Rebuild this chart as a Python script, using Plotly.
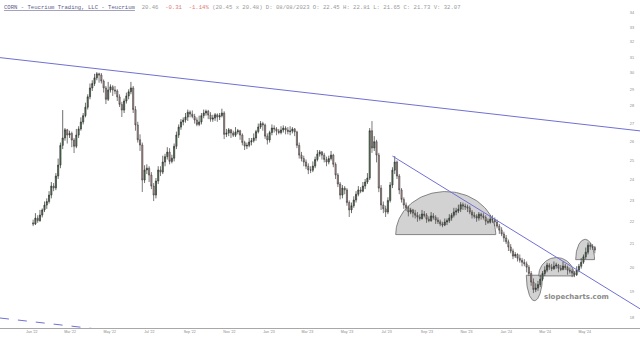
import numpy as np
import pandas as pd
import plotly.graph_objects as go

# ---------------- data: half-week bars (two per week) ----------------
first_week = "2022-01-03"
n_weeks = 124
opens = [21.95, 21.90, 22.17, 22.05, 22.31, 22.55, 22.78, 22.95, 23.26, 23.70, 23.61, 24.20, 24.76, 25.80, 26.20, 26.65,
         26.36, 26.45, 26.09, 25.75, 26.36, 26.70, 27.09, 27.45, 27.94, 28.55, 29.08, 29.35, 29.70, 29.95, 29.88, 29.50,
         29.08, 28.40, 28.96, 29.15, 28.96, 28.90, 28.54, 28.10, 27.77, 28.30, 28.60, 28.85, 29.08, 27.80, 26.92, 26.10,
         25.82, 24.00, 24.51, 24.60, 24.25, 23.70, 23.26, 23.95, 24.51, 24.40, 24.92, 25.20, 25.44, 24.95, 25.12, 25.75,
         26.36, 26.80, 27.09, 27.20, 27.37, 27.65, 27.54, 27.40, 27.20, 26.95, 27.09, 27.45, 27.60, 27.70, 27.48, 27.25,
         27.31, 27.50, 27.37, 27.45, 27.60, 26.40, 26.47, 26.65, 26.47, 26.35, 26.53, 26.60, 26.36, 25.95, 25.76, 25.80,
         25.98, 26.05, 26.20, 26.55, 26.81, 27.00, 26.92, 26.30, 26.09, 26.50, 26.75, 26.70, 26.58, 26.50, 26.64, 26.75,
         26.64, 26.55, 26.58, 26.70, 26.53, 25.80, 25.28, 25.10, 24.92, 24.70, 24.51, 24.50, 24.71, 25.05, 25.34, 25.45,
         25.28, 25.05, 24.92, 25.10, 25.28, 24.80, 24.25, 23.80, 23.26, 23.60, 23.51, 22.90, 22.55, 22.75, 23.02, 23.30,
         23.51, 23.45, 23.70, 23.90, 24.10, 26.60, 25.66, 26.00, 25.28, 23.60, 22.78, 22.60, 22.45, 23.00, 23.75, 24.50,
         24.92, 24.20, 23.51, 23.05, 22.78, 22.65, 22.45, 22.55, 22.40, 22.30, 22.22, 22.15, 22.36, 22.30, 22.12, 22.05,
         22.27, 22.20, 22.08, 22.00, 21.90, 21.85, 21.99, 22.05, 22.17, 22.30, 22.45, 22.50, 22.59, 22.80, 22.73, 22.70,
         22.64, 22.45, 22.31, 22.25, 22.17, 22.35, 22.27, 22.20, 22.03, 21.98, 22.12, 22.10, 21.99, 21.80, 21.62, 21.45,
         21.27, 21.10, 20.87, 20.70, 20.48, 20.55, 20.39, 20.30, 20.22, 20.15, 20.01, 19.75, 19.40, 19.10, 19.16, 19.30,
         19.52, 19.75, 19.89, 20.10, 20.01, 19.95, 20.06, 20.10, 19.97, 19.92, 20.06, 20.00, 19.89, 19.85, 19.77, 19.70,
         19.89, 20.05, 20.22, 20.45, 20.65, 20.95, 20.91, 20.85]
highs = [22.10, 22.40, 22.30, 22.55, 22.62, 22.95, 23.10, 23.45, 23.90, 23.85, 24.35, 25.10, 25.95, 27.77, 26.75, 26.70,
         26.60, 26.55, 26.20, 26.70, 26.85, 27.35, 27.60, 28.20, 28.70, 29.35, 29.55, 29.95, 30.06, 30.02, 30.00, 29.60,
         29.20, 29.45, 29.30, 29.25, 29.20, 29.00, 28.70, 28.25, 28.45, 28.80, 29.00, 29.45, 29.20, 28.00, 27.10, 26.40,
         25.95, 24.75, 24.80, 24.70, 24.40, 23.85, 24.10, 24.70, 24.70, 25.25, 25.35, 25.70, 25.65, 25.30, 25.90, 26.55,
         26.95, 27.25, 27.35, 27.60, 27.80, 27.75, 27.75, 27.55, 27.35, 27.45, 27.60, 27.80, 27.80, 27.78, 27.65, 27.50,
         27.60, 27.58, 27.60, 27.85, 27.70, 26.70, 26.75, 26.70, 26.60, 26.80, 26.70, 26.65, 26.45, 26.05, 25.95, 26.20,
         26.20, 26.45, 26.65, 27.00, 27.14, 27.10, 27.00, 26.45, 26.60, 26.95, 26.90, 26.80, 26.70, 26.85, 26.90, 26.85,
         26.80, 26.85, 26.80, 26.75, 26.60, 25.95, 25.45, 25.25, 25.05, 24.85, 24.70, 24.95, 25.20, 25.55, 25.55, 25.50,
         25.40, 25.20, 25.25, 25.50, 25.35, 24.90, 24.35, 23.90, 23.75, 23.70, 23.60, 23.00, 22.90, 23.20, 23.45, 23.70,
         23.65, 23.90, 24.05, 24.35, 26.75, 27.14, 26.30, 26.10, 25.40, 23.75, 22.95, 22.75, 23.15, 23.90, 24.65, 25.23,
         25.00, 24.30, 23.60, 23.15, 22.90, 22.75, 22.65, 22.60, 22.55, 22.45, 22.35, 22.55, 22.50, 22.40, 22.25, 22.45,
         22.40, 22.30, 22.20, 22.10, 22.00, 22.15, 22.15, 22.35, 22.40, 22.65, 22.65, 22.80, 22.92, 22.90, 22.85, 22.80,
         22.75, 22.55, 22.45, 22.35, 22.45, 22.42, 22.40, 22.30, 22.15, 22.30, 22.30, 22.20, 22.10, 21.90, 21.75, 21.55,
         21.40, 21.20, 21.00, 20.80, 20.65, 20.60, 20.55, 20.40, 20.35, 20.25, 20.10, 19.85, 19.55, 19.35, 19.45, 19.70,
         19.85, 20.05, 20.20, 20.18, 20.15, 20.25, 20.20, 20.15, 20.10, 20.25, 20.15, 20.08, 20.00, 19.95, 19.85, 20.05,
         20.15, 20.40, 20.55, 20.85, 21.07, 21.05, 21.00, 20.92]
lows = [21.80, 21.85, 21.95, 22.00, 22.20, 22.45, 22.60, 22.85, 23.10, 23.45, 23.50, 24.05, 24.60, 25.60, 26.05, 25.90,
        26.20, 25.70, 25.39, 25.65, 26.20, 26.60, 26.95, 27.35, 27.80, 28.40, 28.90, 29.20, 29.55, 29.40, 29.35, 28.80,
        28.12, 28.30, 28.80, 28.60, 28.70, 28.30, 27.95, 27.37, 27.60, 28.15, 28.40, 28.70, 27.60, 26.60, 25.95, 25.50,
        23.41, 23.85, 24.30, 23.90, 23.55, 22.97, 23.10, 23.80, 24.20, 24.30, 24.70, 25.05, 24.80, 24.85, 24.95, 25.60,
        26.20, 26.65, 26.90, 27.05, 27.15, 27.35, 27.30, 27.00, 26.85, 26.85, 26.95, 27.30, 27.45, 27.25, 27.10, 27.10,
        27.15, 27.10, 27.20, 27.35, 26.14, 26.25, 26.30, 26.20, 26.25, 26.25, 26.40, 26.10, 25.80, 25.55, 25.60, 25.70,
        25.80, 25.95, 26.05, 26.45, 26.70, 26.60, 26.15, 25.85, 25.95, 26.35, 26.50, 26.35, 26.40, 26.40, 26.50, 26.40,
        26.40, 26.35, 26.45, 26.30, 25.65, 25.10, 24.95, 24.70, 24.55, 24.30, 24.35, 24.40, 24.60, 24.95, 25.20, 25.05,
        24.90, 24.70, 24.80, 25.00, 24.65, 24.05, 23.65, 23.05, 23.10, 23.30, 22.75, 22.22, 22.40, 22.65, 22.90, 23.20,
        23.35, 23.40, 23.55, 23.80, 24.00, 25.40, 25.50, 24.90, 23.40, 22.55, 22.40, 22.22, 22.35, 22.90, 23.60, 24.30,
        24.05, 23.30, 22.90, 22.60, 22.50, 22.25, 22.35, 22.20, 22.15, 22.00, 22.05, 22.10, 22.20, 21.95, 21.98, 22.00,
        22.10, 21.90, 21.90, 21.80, 21.75, 21.80, 21.85, 21.95, 22.05, 22.20, 22.30, 22.40, 22.45, 22.55, 22.55, 22.45,
        22.35, 22.15, 22.15, 22.00, 22.05, 22.10, 22.10, 21.85, 21.90, 21.92, 21.95, 21.80, 21.70, 21.45, 21.35, 21.10,
        21.00, 20.70, 20.60, 20.35, 20.40, 20.25, 20.20, 20.05, 20.05, 19.80, 19.65, 19.25, 18.96, 19.00, 19.05, 19.20,
        19.45, 19.65, 19.80, 19.90, 19.85, 19.90, 19.95, 19.80, 19.85, 19.88, 19.90, 19.70, 19.75, 19.60, 19.60, 19.65,
        19.80, 19.95, 20.15, 20.35, 20.55, 20.75, 20.75, 20.60]
closes = [21.90, 22.17, 22.05, 22.31, 22.55, 22.78, 22.95, 23.26, 23.70, 23.61, 24.20, 24.76, 25.80, 26.20, 26.65, 26.36,
          26.45, 26.09, 25.75, 26.36, 26.70, 27.09, 27.45, 27.94, 28.55, 29.08, 29.35, 29.70, 29.95, 29.88, 29.50, 29.08,
          28.40, 28.96, 29.15, 28.96, 28.90, 28.54, 28.10, 27.77, 28.30, 28.60, 28.85, 29.08, 27.80, 26.92, 26.10, 25.82,
          24.00, 24.51, 24.60, 24.25, 23.70, 23.26, 23.95, 24.51, 24.40, 24.92, 25.20, 25.44, 24.95, 25.12, 25.75, 26.36,
          26.80, 27.09, 27.20, 27.37, 27.65, 27.54, 27.40, 27.20, 26.95, 27.09, 27.45, 27.60, 27.70, 27.48, 27.25, 27.31,
          27.50, 27.37, 27.45, 27.60, 26.40, 26.47, 26.65, 26.47, 26.35, 26.53, 26.60, 26.36, 25.95, 25.76, 25.80, 25.98,
          26.05, 26.20, 26.55, 26.81, 27.00, 26.92, 26.30, 26.09, 26.50, 26.75, 26.70, 26.58, 26.50, 26.64, 26.75, 26.64,
          26.55, 26.58, 26.70, 26.53, 25.80, 25.28, 25.10, 24.92, 24.70, 24.51, 24.50, 24.71, 25.05, 25.34, 25.45, 25.28,
          25.05, 24.92, 25.10, 25.28, 24.80, 24.25, 23.80, 23.26, 23.60, 23.51, 22.90, 22.55, 22.75, 23.02, 23.30, 23.51,
          23.45, 23.70, 23.90, 24.10, 26.60, 25.66, 26.00, 25.28, 23.60, 22.78, 22.60, 22.45, 23.00, 23.75, 24.50, 24.92,
          24.20, 23.51, 23.05, 22.78, 22.65, 22.45, 22.55, 22.40, 22.30, 22.22, 22.15, 22.36, 22.30, 22.12, 22.05, 22.27,
          22.20, 22.08, 22.00, 21.90, 21.85, 21.99, 22.05, 22.17, 22.30, 22.45, 22.50, 22.59, 22.80, 22.73, 22.70, 22.64,
          22.45, 22.31, 22.25, 22.17, 22.35, 22.27, 22.20, 22.03, 21.98, 22.12, 22.10, 21.99, 21.80, 21.62, 21.45, 21.27,
          21.10, 20.87, 20.70, 20.48, 20.55, 20.39, 20.30, 20.22, 20.15, 20.01, 19.75, 19.40, 19.10, 19.16, 19.30, 19.52,
          19.75, 19.89, 20.10, 20.01, 19.95, 20.06, 20.10, 19.97, 19.92, 20.06, 20.00, 19.89, 19.85, 19.77, 19.70, 19.89,
          20.05, 20.22, 20.45, 20.65, 20.95, 20.91, 20.85, 20.74]
week_starts = pd.date_range(first_week, periods=n_weeks, freq="7D")
dates = pd.DatetimeIndex(np.ravel(np.column_stack([week_starts.values,
                                                   (week_starts + pd.Timedelta(hours=84)).values])))

ytick_vals = list(range(18, 35))
xtick_dates = ["2022-01-01", "2022-03-01", "2022-05-01", "2022-07-01", "2022-09-01", "2022-11-01",
               "2023-01-01", "2023-03-01", "2023-05-01", "2023-07-01", "2023-09-01", "2023-11-01",
               "2024-01-01", "2024-03-01", "2024-05-01"]
xtick_text = ["Jan '22", "Mar '22", "May '22", "Jul '22", "Sep '22", "Nov '22",
              "Jan '23", "Mar '23", "May '23", "Jul '23", "Sep '23", "Nov '23",
              "Jan '24", "Mar '24", "May '24"]

# drawn trend lines: anchor (date, price)
trend_main_dates = ["2021-11-13", "2024-07-25"]
trend_main_prices = [30.98, 26.59]
trend_down_dates = ["2023-07-10", "2024-07-25"]
trend_down_prices = [25.23, 18.35]
trend_dash_dates = ["2021-11-13", "2022-04-30"]
trend_dash_prices = [18.00, 17.54]

# drawn domes / bowls: left date, right date, base price, apex price
dome_left = ["2023-07-15", "2024-02-01", "2024-02-20", "2024-04-17"]
dome_right = ["2023-12-16", "2024-02-26", "2024-04-15", "2024-05-16"]
dome_base = [21.42, 19.68, 19.65, 20.33]
dome_apex = [23.43, 18.66, 20.42, 21.21]

x_range = ["2021-11-13", "2024-07-25"]
y_range_prices = [17.629, 34.934]
y_range_log = [float(np.log10(y_range_prices[0])), float(np.log10(y_range_prices[1]))]

# ---------------- figure ----------------
fig = go.Figure()

theta = np.linspace(0, np.pi, 80)
for l, r, b, a in zip(dome_left, dome_right, dome_base, dome_apex):
    lt = pd.Timestamp(l).value
    rt = pd.Timestamp(r).value
    tt = lt + (rt - lt) * (1 - np.cos(theta)) / 2
    lp = np.log10(b) + (np.log10(a) - np.log10(b)) * np.sin(theta)
    xs = list(pd.to_datetime(tt)) + [pd.Timestamp(l)]
    ys = list(10 ** lp) + [b]
    fig.add_trace(go.Scatter(x=xs, y=ys, mode="lines", fill="toself",
                             fillcolor="#d2d2d2",
                             line=dict(color="#6a6a6a", width=0.8),
                             hoverinfo="skip", showlegend=False, yaxis="y"))

fig.add_trace(go.Candlestick(
    x=dates, open=opens, high=highs, low=lows, close=closes, yaxis="y2",
    increasing=dict(line=dict(color="#2f2f2f", width=0.7), fillcolor="#4f8a4f"),
    decreasing=dict(line=dict(color="#444444", width=0.7), fillcolor="#d49c9c"),
    whiskerwidth=0, showlegend=False))

line_col = "#7070d4"
for dd, pp, dash in [(trend_main_dates, trend_main_prices, "solid"),
                     (trend_down_dates, trend_down_prices, "solid"),
                     (trend_dash_dates, trend_dash_prices, "dash")]:
    fig.add_trace(go.Scatter(x=pd.to_datetime(dd), y=pp, mode="lines", yaxis="y2",
                             line=dict(color=line_col, width=1, dash=dash),
                             showlegend=False, hoverinfo="skip"))

header = ('<span style="color:#5a5a88"><u>CORN - Teucrium Trading, LLC - Teucrium</u></span>\u00a0 20.46\u00a0 '
          '<span style="color:#e07a7a">-0.31\u00a0 -1.14%</span> (20.45 x 20.48) D: 08/08/2023 '
          'O: 22.45 H: 22.81 L: 21.65 C: 21.73 V: 32.07')

fig.update_layout(
    width=640, height=342,
    margin=dict(l=0, r=0, t=0, b=14),
    paper_bgcolor="white", plot_bgcolor="white",
    boxgap=0.3,
    xaxis=dict(type="date", range=x_range, rangeslider=dict(visible=False),
               showgrid=False, zeroline=False, showline=True, linecolor="#a8a8a8", linewidth=1,
               tickvals=pd.to_datetime(xtick_dates), ticktext=xtick_text, ticks="",
               tickfont=dict(family="Liberation Sans", size=3.6, color="#888888")),
    yaxis=dict(type="log", side="right", range=y_range_log,
               showgrid=False, zeroline=False, showline=False, ticks="",
               tickvals=ytick_vals, ticktext=[str(v) for v in ytick_vals],
               ticklabelposition="inside", ticklabelstandoff=3,
               tickfont=dict(family="Liberation Sans", size=3.8, color="#888888")),
    yaxis2=dict(type="log", overlaying="y", side="right", range=y_range_log,
                showgrid=False, zeroline=False, showline=False, showticklabels=False, ticks=""),
    annotations=[
        dict(text=header, xref="paper", yref="paper", x=0, y=1, xanchor="left", yanchor="top",
             xshift=2, yshift=-2, showarrow=False,
             font=dict(family="Liberation Mono", size=5.6, color="#9a9a9a")),
        dict(text="<b>slopecharts.com</b>", xref="paper", yref="paper", x=0.9, y=0.0954,
             xanchor="center", yanchor="middle", showarrow=False,
             font=dict(family="DejaVu Sans", size=7, color="#8a8a8a")),
    ],
)

fig.write_html("out.html")
